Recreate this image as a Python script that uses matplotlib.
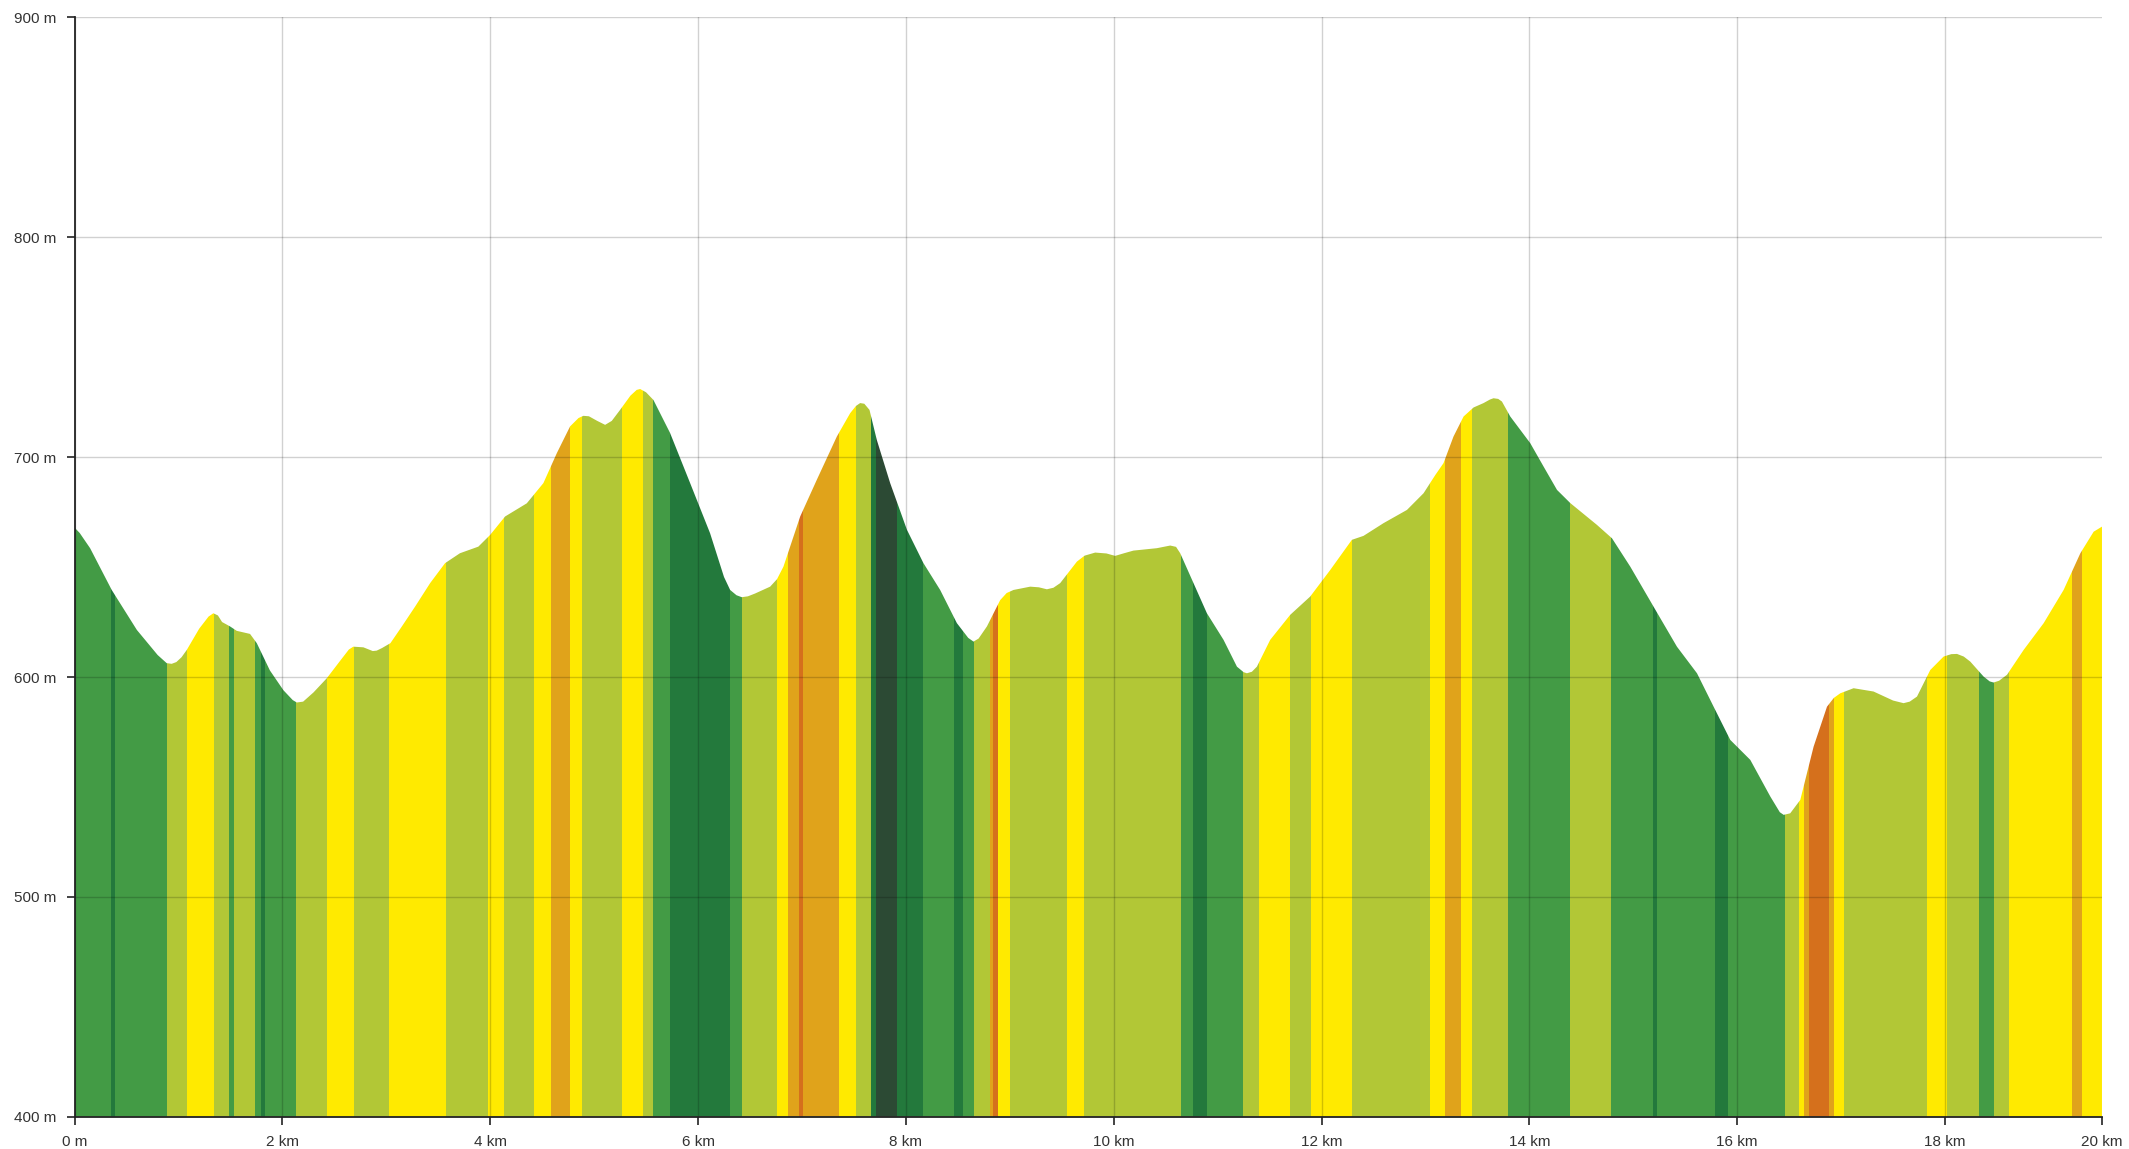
import matplotlib
matplotlib.use("Agg")
import matplotlib.pyplot as plt
from matplotlib.patches import Polygon

plt.rcParams['font.family'] = ['Liberation Sans', 'DejaVu Sans']

# Elevation profile (distance in km, elevation in m)
dist_km = [0.0, 0.05, 0.15, 0.358, 0.6, 0.8, 0.887, 0.935, 0.98, 1.03, 1.08, 1.2, 1.29,
           1.336, 1.38, 1.42, 1.497, 1.561, 1.689, 1.754, 1.88, 2.01, 2.1, 2.139, 2.2,
           2.3, 2.427, 2.55, 2.64, 2.683, 2.78, 2.87, 2.908, 2.96, 3.04, 3.15, 3.277,
           3.422, 3.566, 3.709, 3.886, 3.999, 4.143, 4.352, 4.512, 4.641, 4.769, 4.85,
           4.897, 4.95, 5.03, 5.106, 5.17, 5.25, 5.35, 5.41, 5.443, 5.5, 5.571, 5.731,
           5.924, 6.116, 6.25, 6.309, 6.37, 6.421, 6.48, 6.55, 6.694, 6.76, 6.822, 6.983,
           7.143, 7.336, 7.464, 7.52, 7.56, 7.6, 7.65, 7.72, 7.849, 8.01, 8.169, 8.33,
           8.491, 8.6, 8.651, 8.7, 8.78, 8.908, 8.97, 9.036, 9.197, 9.28, 9.357, 9.42,
           9.485, 9.646, 9.72, 9.822, 9.93, 10.014, 10.1, 10.19, 10.416, 10.544, 10.6,
           10.64, 10.768, 10.897, 11.057, 11.186, 11.25, 11.282, 11.33, 11.378, 11.506,
           11.699, 11.891, 12.084, 12.292, 12.404, 12.597, 12.822, 12.982, 13.095,
           13.174, 13.27, 13.367, 13.463, 13.559, 13.62, 13.655, 13.7, 13.736, 13.816,
           14.008, 14.137, 14.266, 14.394, 14.65, 14.795, 14.971, 15.195, 15.42, 15.613,
           15.773, 15.933, 16.126, 16.319, 16.41, 16.447, 16.51, 16.607, 16.735, 16.864,
           16.93, 16.992, 17.12, 17.312, 17.5, 17.601, 17.66, 17.73, 17.858, 17.986,
           18.06, 18.115, 18.18, 18.243, 18.371, 18.43, 18.467, 18.52, 18.596, 18.756,
           18.949, 19.141, 19.302, 19.43, 19.51]
elev_m = [668, 665.5, 658.6, 639.6, 621.4, 610, 606.3, 606, 606.8, 609, 612.3, 622, 627.5,
          629, 628, 625, 623, 621, 619.6, 615.4, 603, 594, 589.5, 588.4, 588.8,
          593, 599.4, 607, 612.5, 613.8, 613.5, 611.8, 612, 613.2, 615.4, 623, 632,
          642.7, 651.8, 656.3, 659.3, 664.6, 673, 679, 688.2, 701.8, 714, 717.8,
          718.8, 718.6, 716.5, 714.7, 716.5, 721.5, 728, 730.6, 731, 729.5, 726, 711,
          688.2, 665.4, 645.5, 639.6, 637.2, 636.3, 636.7, 638, 641.1, 644.5, 650.2, 673,
          689.7, 709.4, 720, 723.3, 724.6, 724.3, 721.5, 707.9, 688.2, 667, 651.8, 639.6,
          624.5, 617.8, 616.1, 617.5, 623, 635, 638.2, 639.6, 641.1, 640.8, 639.9, 640.6,
          642.7, 652.5, 655.2, 656.6, 656.2, 655.1, 656.3, 657.5, 658.6, 659.8, 659.2,
          656.3, 642.7, 629, 616.9, 604.7, 602.2, 601.7, 602.4, 604.7, 616.9,
          628.3, 636.6, 648.7, 662.4, 664.2, 670, 676, 683.6, 691.9,
          697.3, 709.4, 718.5, 722.6, 724.6, 726.2, 726.8, 726.5, 725.3, 718.5,
          706.4, 695.7, 685.1, 679.1, 669.2, 663.1, 650.2, 632, 613.8, 601.7,
          586.5, 571.4, 562.3, 545.6, 538.5, 537.3, 538, 544.1, 568.3, 586.5,
          590.5, 592.6, 594.9, 593.4, 589.3, 588.1, 588.8, 591.1, 603.2, 609.3,
          610.4, 610.5, 609.3, 607, 600.2, 598, 597.5, 598.3, 601, 612.3,
          624.5, 639.6, 656.3, 666.1, 668.4]

# Gradient classes along the route: segment start (km) and class
seg_start = [0.0, 0.348, 0.39, 0.887, 1.086, 1.343, 1.487, 1.535, 1.737, 1.792, 1.834,
             2.132, 2.433, 2.69, 3.03, 3.575, 3.983, 4.134, 4.422, 4.583, 4.769, 4.881,
             5.273, 5.474, 5.571, 5.731, 6.309, 6.421, 6.764, 6.87, 6.976, 7.014, 7.361,
             7.522, 7.663, 7.714, 7.913, 8.163, 8.465, 8.554, 8.651, 8.811, 8.843, 8.891,
             9.004, 9.55, 9.71, 10.646, 10.762, 10.897, 11.243, 11.394, 11.699, 11.897,
             12.292, 13.046, 13.19, 13.342, 13.447, 13.79, 14.387, 14.788, 15.189, 15.227,
             15.788, 15.916, 16.463, 16.591, 16.639, 16.687, 16.88, 16.928, 17.024,
             17.826, 18.019, 18.323, 18.467, 18.611, 19.222, 19.318]
seg_class = ['G', 'DG', 'G', 'YG', 'Y', 'YG', 'G', 'YG', 'G', 'DG', 'G',
             'YG', 'Y', 'YG', 'Y', 'YG', 'Y', 'YG', 'Y', 'O', 'Y', 'YG',
             'Y', 'YG', 'G', 'DG', 'G', 'YG', 'Y', 'O', 'DO', 'O', 'Y',
             'YG', 'DG', 'VDG', 'DG', 'G', 'DG', 'G', 'YG', 'O', 'DO', 'Y',
             'YG', 'Y', 'YG', 'G', 'DG', 'G', 'YG', 'Y', 'YG', 'Y',
             'YG', 'Y', 'O', 'Y', 'YG', 'G', 'YG', 'G', 'DG', 'G',
             'DG', 'G', 'YG', 'Y', 'O', 'DO', 'O', 'Y', 'YG',
             'Y', 'YG', 'G', 'YG', 'Y', 'O', 'Y']

x_ticks = [0, 2, 4, 6, 8, 10, 12, 14, 16, 18, 19.51]
x_labels = ['0 m', '2 km', '4 km', '6 km', '8 km', '10 km', '12 km', '14 km',
            '16 km', '18 km', '20 km']
y_ticks = [400, 500, 600, 700, 800, 900]
y_labels = ['400 m', '500 m', '600 m', '700 m', '800 m', '900 m']

colors = {'VDG': '#2c4a34', 'DG': '#23793c', 'G': '#439b45', 'YG': '#b2c736',
          'Y': '#ffea00', 'O': '#e0a31b', 'DO': '#d5701c'}

fig = plt.figure(figsize=(21.29, 11.49), dpi=100)
ax = fig.add_axes([0.035, 0.0281, 0.9523, 0.9567])

x_end = dist_km[-1]
ax.set_xlim(0, x_end)
ax.set_ylim(400, 900)

# profile polygon used as a clip for the coloured stripes
verts = [(0, 400)] + list(zip(dist_km, elev_m)) + [(x_end, 400)]
profile = Polygon(verts, closed=True, transform=ax.transData)

seg_end = seg_start[1:] + [x_end]
for s, e, c in zip(seg_start, seg_end, seg_class):
    span = ax.axvspan(s, e, color=colors[c], lw=0, zorder=1)
    span.set_clip_path(profile)

ax.set_xticks(x_ticks)
ax.set_xticklabels(x_labels)
ax.set_yticks(y_ticks)
ax.set_yticklabels(y_labels)
ax.tick_params(axis='both', labelsize=11, length=6, width=1.2, color='#222222',
               labelcolor='#333333', pad=7)

ax.grid(True, color='black', alpha=0.18, lw=1, zorder=3)
ax.set_axisbelow(False)
ax.xaxis.get_gridlines()[-1].set_visible(False)

for side in ['top', 'right']:
    ax.spines[side].set_visible(False)
for side in ['left', 'bottom']:
    ax.spines[side].set_linewidth(1.3)
    ax.spines[side].set_color('#222222')
    ax.spines[side].set_zorder(4)

fig.savefig('out.png', dpi=100)
